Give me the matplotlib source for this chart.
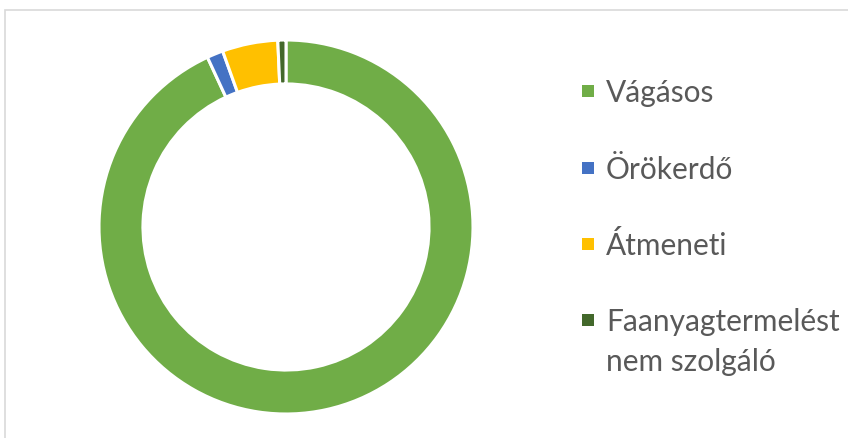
import matplotlib.pyplot as plt
from matplotlib.patches import Rectangle

# data (share of area, %)
labels = ["Vágásos", "Örökerdő", "Átmeneti", "Faanyagtermelést\nnem szolgáló"]
values = [93.1, 1.4, 4.8, 0.7]
colors = ["#70AD47", "#4472C4", "#FFC000", "#43682B"]

W, H = 848, 439
fig = plt.figure(figsize=(W / 100, H / 100), dpi=100)
fig.patch.set_facecolor("white")

# light chart-area frame, running off the right and bottom edges
fig.patches.append(Rectangle((4.5 / W, -0.1), 1.2, (H - 10.5) / H + 0.1,
                             transform=fig.transFigure, fill=False,
                             edgecolor="#D9D9D9", linewidth=1.2))

# donut: centre (286, 228) px, outer radius 187 px
cx, cy, r = 286, 228, 187
ax = fig.add_axes([(cx - r) / W, (H - cy - r) / H, 2 * r / W, 2 * r / H])
ax.pie(values, colors=colors, startangle=90, counterclock=False,
       radius=1, wedgeprops=dict(width=0.235, edgecolor="white", linewidth=2.2))
ax.set_xlim(-1, 1)
ax.set_ylim(-1, 1)
ax.set_aspect("equal")
ax.axis("off")

# legend drawn by hand so the marker sits on the first text line
baselines = [102, 179, 255, 331]
fs = 21.5
for lab, col, yb in zip(labels, colors, baselines):
    s = 12
    fig.patches.append(Rectangle((582 / W, (H - yb + 4) / H), s / W, s / H,
                                 transform=fig.transFigure, facecolor=col,
                                 edgecolor="none"))
    lines = lab.split("\n")
    for i, ln in enumerate(lines):
        fig.text(606 / W, (H - yb - 40 * i) / H, ln, fontsize=fs,
                 family="Lato", color="#595959", va="baseline", ha="left")

fig.savefig("out.png", dpi=100)
